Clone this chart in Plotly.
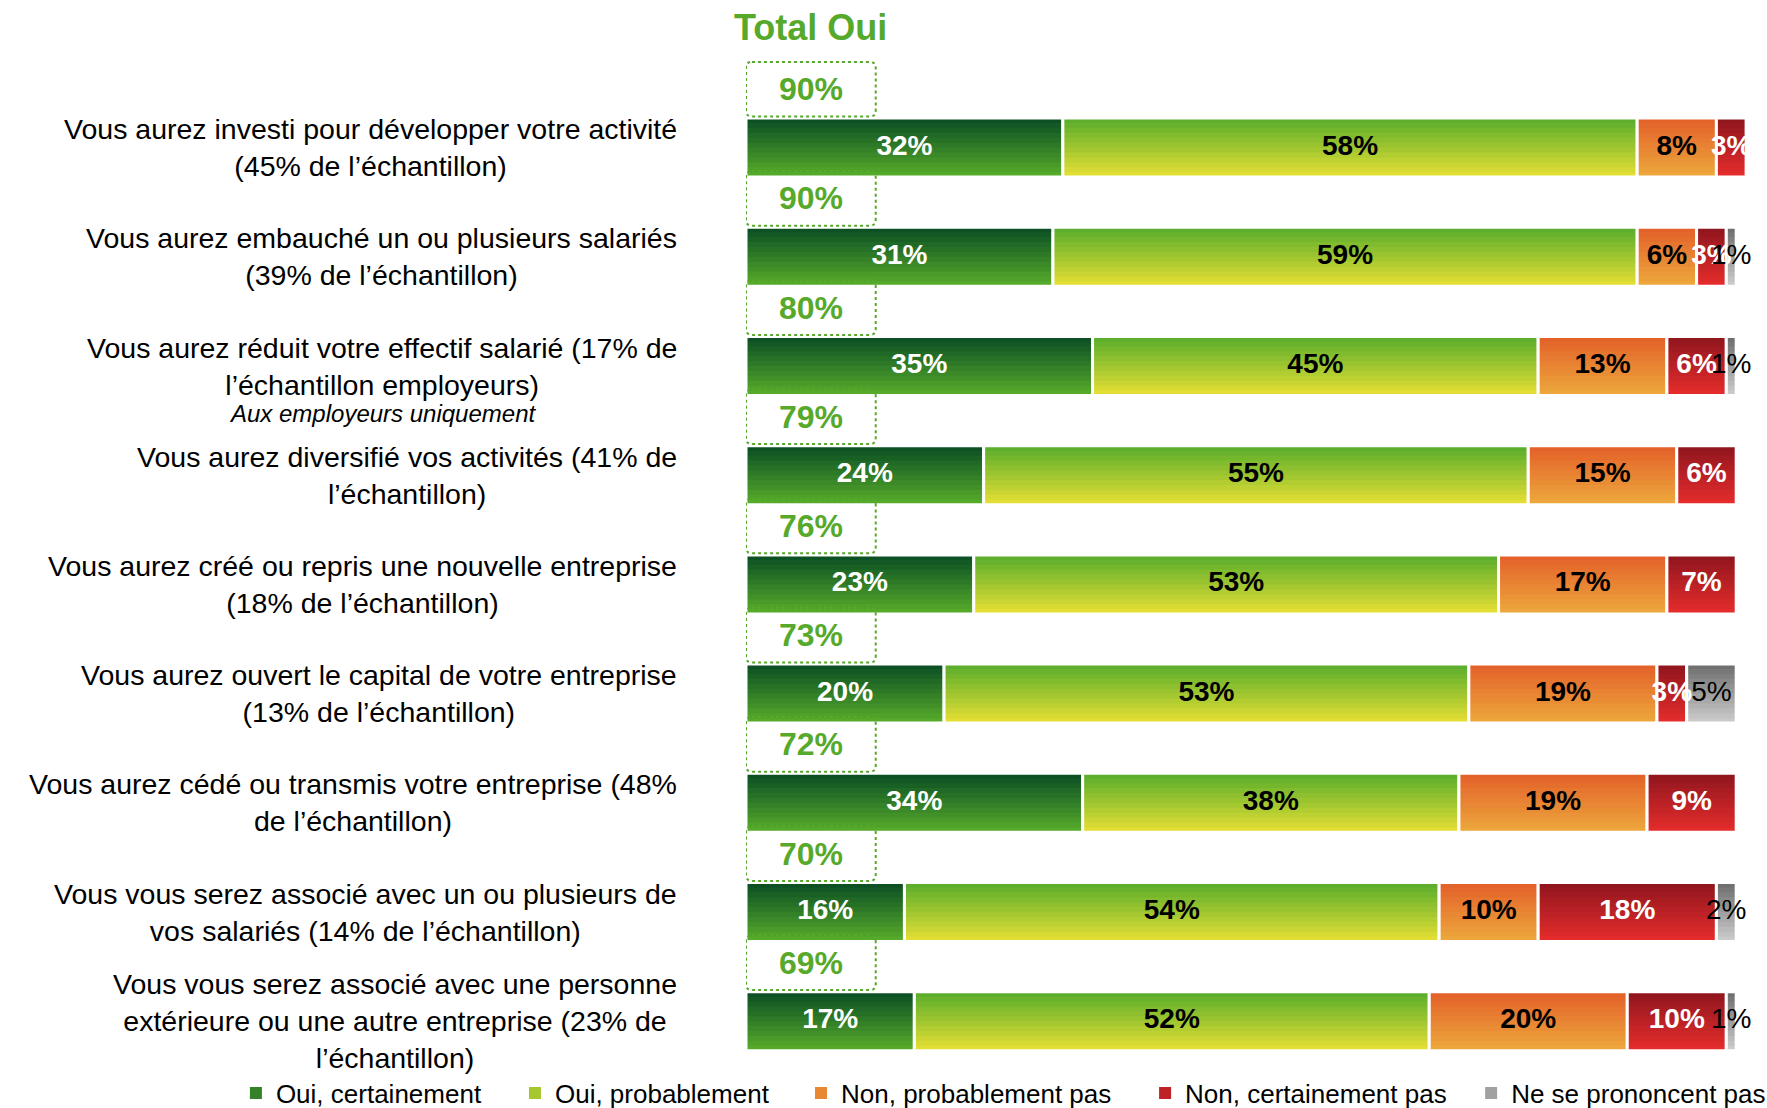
import numpy as np
import plotly.graph_objects as go

# ---------------- data ----------------
categories = [
    "Vous aurez investi pour développer votre activité<br>(45% de l’échantillon)",
    "Vous aurez embauché un ou plusieurs salariés<br>(39% de l’échantillon)",
    "Vous aurez réduit votre effectif salarié (17% de<br>l’échantillon employeurs)",
    "Vous aurez diversifié vos activités (41% de<br>l’échantillon)",
    "Vous aurez créé ou repris une nouvelle entreprise<br>(18% de l’échantillon)",
    "Vous aurez ouvert le capital de votre entreprise<br>(13% de l’échantillon)",
    "Vous aurez cédé ou transmis votre entreprise (48%<br>de l’échantillon)",
    "Vous vous serez associé avec un ou plusieurs de<br>vos salariés (14% de l’échantillon)",
    "Vous vous serez associé avec une personne<br>extérieure ou une autre entreprise (23% de<br>l’échantillon)",
]
sub_note_row = 2
sub_note = "Aux employeurs uniquement"

series_names = ["Oui, certainement", "Oui, probablement", "Non, probablement pas",
                "Non, certainement pas", "Ne se prononcent pas"]
oui_certainement = [32, 31, 35, 24, 23, 20, 34, 16, 17]
oui_probablement = [58, 59, 45, 55, 53, 53, 38, 54, 52]
non_probablement = [8, 6, 13, 15, 17, 19, 19, 10, 20]
non_certainement = [3, 3, 6, 6, 7, 3, 9, 18, 10]
nsp = [0, 1, 1, 0, 0, 5, 0, 2, 1]
total_oui = [90, 90, 80, 79, 76, 73, 72, 70, 69]

# ---------------- styles ----------------
FONT = "Liberation Sans, Arial, sans-serif"
GREEN_TXT = "#56a92b"
grad = [  # top colour, bottom colour
    ((12, 80, 36), (86, 170, 42)),
    ((92, 174, 44), (226, 222, 52)),
    ((227, 98, 42), (237, 166, 60)),
    ((145, 22, 30), (228, 44, 44)),
    ((112, 112, 112), (202, 202, 202)),
]
txt_color = ["white", "black", "black", "white", "black"]
txt_weight = ["bold", "bold", "bold", "bold", "normal"]
legend_px = [236, 515, 801, 1145, 1471]   # left edge of each legend entry (px)

series = [oui_certainement, oui_probablement, non_probablement, non_certainement, nsp]
n_rows = len(categories)
rows = np.arange(n_rows)
W = 0.54          # bar thickness (category units)
NB = 12           # gradient bands
PX_X = 9.9        # pixels per percent
X_MAX = 102
PLOT_W = PX_X * X_MAX
L_MARGIN = 746
B_MARGIN = 40
PLOT_H = 1108 - B_MARGIN

fig = go.Figure()
base = np.zeros(n_rows)
for s, vals in enumerate(series):
    v = np.array(vals, dtype=float)
    top, bot = grad[s]
    leg = "legend" if s == 0 else "legend%d" % (s + 1)
    for k in range(NB):
        t = k / (NB - 1)
        c = tuple(int(round(top[i] + (bot[i] - top[i]) * t)) for i in range(3))
        band = W / NB if k == NB - 1 else W / NB + 0.012
        fig.add_trace(go.Bar(
            orientation="h", y=rows, x=np.where(v > 0, v, np.nan), base=base,
            width=band, offset=-W / 2 + k * W / NB,
            marker=dict(color="rgb(%d,%d,%d)" % c, line=dict(width=0)),
            name=series_names[s], legendgroup=series_names[s], legend=leg,
            showlegend=(k == NB // 2), hoverinfo="skip", cliponaxis=False,
        ))
    # white separators / outline
    fig.add_trace(go.Bar(
        orientation="h", y=rows, x=np.where(v > 0, v, np.nan), base=base,
        width=W, offset=-W / 2,
        marker=dict(color="rgba(0,0,0,0)", line=dict(color="white", width=3)),
        showlegend=False, hoverinfo="skip", cliponaxis=False,
    ))
    # value labels
    mask = v > 0
    fig.add_trace(go.Scatter(
        x=(base + v / 2)[mask], y=rows[mask], mode="text",
        text=["%d%%" % x for x in v[mask]],
        textfont=dict(family=FONT, size=28, color=txt_color[s], weight=txt_weight[s]),
        showlegend=False, hoverinfo="skip", cliponaxis=False,
    ))
    base = base + v

# ---------------- Total Oui boxes ----------------
box_w = 13.1
box_top, box_bot = -0.785, -0.285
rx, ry = 0.6, 0.055
shapes = []
for i in range(n_rows):
    x0, x1 = 0.0, box_w
    y0, y1 = i + box_top, i + box_bot
    path = (f"M {x0+rx},{y0} L {x1-rx},{y0} Q {x1},{y0} {x1},{y0+ry} "
            f"L {x1},{y1-ry} Q {x1},{y1} {x1-rx},{y1} L {x0+rx},{y1} "
            f"Q {x0},{y1} {x0},{y1-ry} L {x0},{y0+ry} Q {x0},{y0} {x0+rx},{y0} Z")
    shapes.append(dict(type="path", path=path, xref="x", yref="y",
                       line=dict(color=GREEN_TXT, width=2, dash="dot"),
                       fillcolor="rgba(255,255,255,0)", layer="above"))

def px_to_paper_x(px):
    return (px - L_MARGIN) / PLOT_W

def px_to_paper_y(py):
    return (PLOT_H - py) / PLOT_H

annotations = []
for i in range(n_rows):
    annotations.append(dict(
        x=box_w / 2, y=i + (box_top + box_bot) / 2, xref="x", yref="y",
        text="%d%%" % total_oui[i], showarrow=False,
        font=dict(family=FONT, size=32, color=GREEN_TXT, weight="bold"),
        xanchor="center", yanchor="middle"))
    annotations.append(dict(
        x=px_to_paper_x(679), y=i, xref="paper", yref="y", text=categories[i],
        showarrow=False, align="center", xanchor="right", yanchor="middle",
        font=dict(family=FONT, size=28.5, color="black")))
annotations.append(dict(
    x=px_to_paper_x(383), y=sub_note_row + 0.435, xref="paper", yref="y",
    text="<i>%s</i>" % sub_note, showarrow=False, align="center",
    xanchor="center", yanchor="middle",
    font=dict(family=FONT, size=24, color="black")))
annotations.append(dict(
    x=6.5, y=px_to_paper_y(27), xref="x", yref="paper", text="Total Oui",
    showarrow=False, xanchor="center", yanchor="middle",
    font=dict(family=FONT, size=36, color=GREEN_TXT, weight="bold")))

# y range: row centres at 147.6 + i*109.2 px
unit = 109.2
y_top = -147.6 / unit
y_bot = (PLOT_H - 147.6) / unit

legends = {}
for s in range(len(series)):
    key = "legend" if s == 0 else "legend%d" % (s + 1)
    legends[key] = dict(
        orientation="h", x=px_to_paper_x(legend_px[s]), y=px_to_paper_y(1093),
        xanchor="left", yanchor="middle",
        font=dict(family=FONT, size=26, color="black"),
        itemwidth=30, bgcolor="rgba(0,0,0,0)")

fig.update_layout(
    width=1767, height=1108,
    margin=dict(l=L_MARGIN, r=1767 - L_MARGIN - PLOT_W, t=0, b=B_MARGIN,
                autoexpand=False),
    paper_bgcolor="white", plot_bgcolor="white",
    barmode="overlay",
    xaxis=dict(range=[0, X_MAX], visible=False, fixedrange=True),
    yaxis=dict(range=[y_bot, y_top], visible=False, fixedrange=True),
    shapes=shapes, annotations=annotations,
    showlegend=True,
    font=dict(family=FONT),
    **legends,
)

fig.write_html("out.html", post_script="document.body.style.margin='0';",
               config={"displayModeBar": False})
